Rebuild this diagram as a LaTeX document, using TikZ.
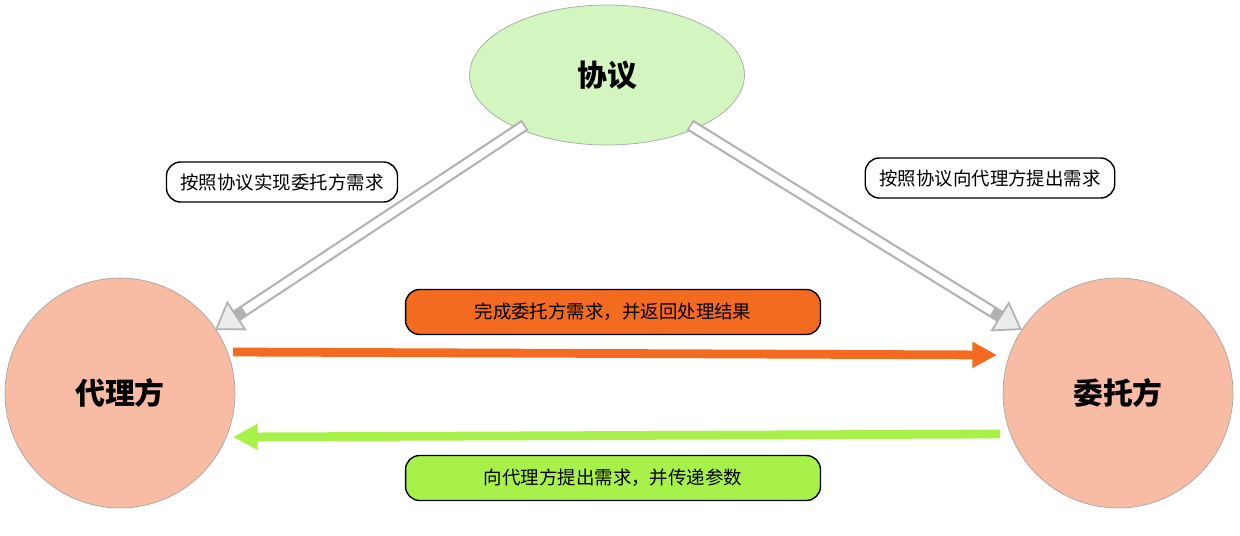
\documentclass[tikz,border=0pt]{standalone}
\usepackage{fontspec}
\setmainfont{Noto Sans CJK SC}
\usetikzlibrary{arrows.meta,shapes.geometric}
\definecolor{protogreen}{HTML}{D3F5C0}
\definecolor{partyred}{HTML}{F8BBA3}
\definecolor{doneorange}{HTML}{F26B21}
\definecolor{askgreen}{HTML}{A8F04A}
\tikzset{
  party/.style={circle, draw=gray!70, fill=partyred, minimum size=4.6cm, font=\fontsize{17}{20}\selectfont\bfseries},
  tag/.style={rounded corners=8pt, draw=black, thick, inner xsep=8pt, minimum height=0.8cm, font=\fontsize{10.5}{12}\selectfont},
  hollow/.style={line width=7pt, draw=gray!60, -{Triangle[width=20pt,length=15pt,fill=gray!15,line width=1pt]}},
  hollowin/.style={line width=4.5pt, draw=white},
}
\begin{document}
\begin{tikzpicture}[x=0.02cm,y=-0.02cm]
\useasboundingbox (0,0) rectangle (1240,535);
\node[ellipse, draw=gray!70, fill=protogreen, minimum width=5.5cm, minimum height=2.8cm, font=\fontsize{17}{20}\selectfont\bfseries] (proto) at (607,75) {协议};
\node[party] (agent) at (120,393) {代理方};
\node[party] (client) at (1118,393) {委托方};

% hollow arrows from the protocol
\coordinate (pl) at (525,125);
\coordinate (pr) at (690,125);
\coordinate (al) at (215,330);
\coordinate (cr) at (1022,330);
\draw[hollow] (pl) -- (al);
\draw[hollowin, shorten >=20pt, shorten <=1pt] (pl) -- (al);
\draw[hollow] (pr) -- (cr);
\draw[hollowin, shorten >=20pt, shorten <=1pt] (pr) -- (cr);
\node[tag, fill=white] (implement) at (282,182) {按照协议实现委托方需求};
\node[tag, fill=white] (request) at (990,178) {按照协议向代理方提出需求};

% result and request arrows
\coordinate (rs) at (233,352);
\coordinate (re) at (997,355);
\coordinate (qs) at (1000,434);
\coordinate (qe) at (233,437);
\draw[line width=5pt, doneorange, -{Triangle[width=14pt,length=14pt]}] (rs) -- (re);
\draw[line width=5pt, askgreen, -{Triangle[width=14pt,length=14pt]}] (qs) -- (qe);
\node[tag, fill=doneorange, minimum width=8.3cm, minimum height=0.9cm] (done) at (613,312) {完成委托方需求，并返回处理结果};
\node[tag, fill=askgreen, minimum width=8.3cm, minimum height=0.9cm] (ask) at (613,478) {向代理方提出需求，并传递参数};
\end{tikzpicture}
\end{document}
